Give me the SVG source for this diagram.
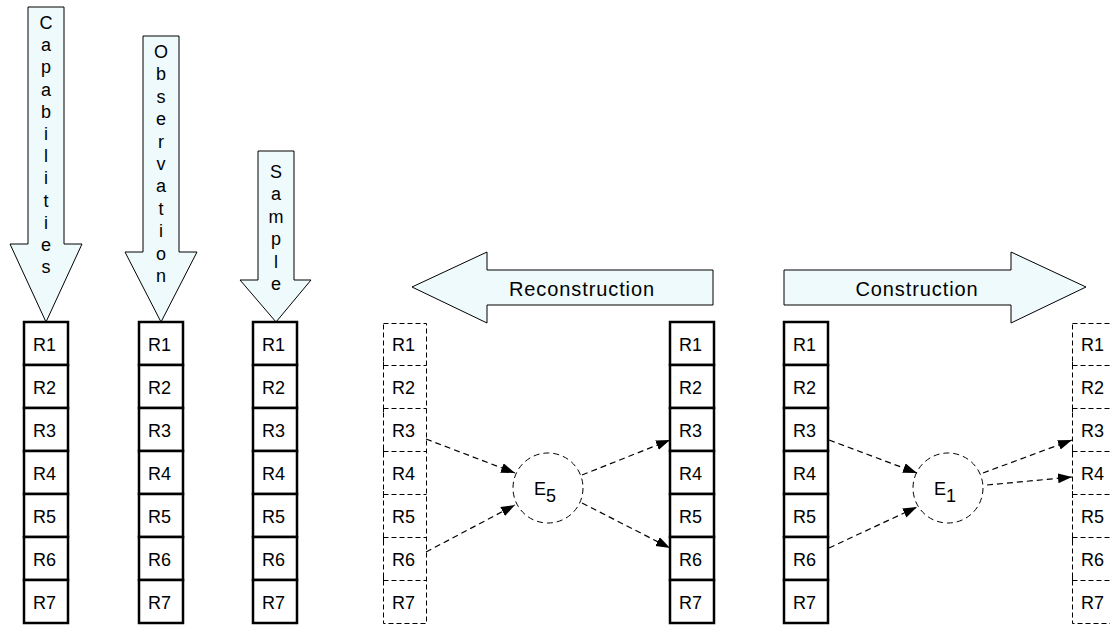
<svg xmlns="http://www.w3.org/2000/svg" width="1110" height="626" viewBox="0 0 1110 626">
  <defs>
    <style>
      text { font-family: "Liberation Sans", Arial, sans-serif; fill: #000; }
      .lbl { font-size: 18px; }
      .big { font-size: 20px; letter-spacing: 0.9px; }
      .flow { fill: #eefafb; stroke: #000; stroke-width: 1; }
      .cell { fill: #fff; stroke: #000; stroke-width: 2.5; }
      .dcell { fill: none; stroke: #000; stroke-width: 1; stroke-dasharray: 5 3; }
      .ent { fill: #fff; stroke: #000; stroke-width: 1; stroke-dasharray: 6 4; }
      .link { fill: none; stroke: #000; stroke-width: 1.2; stroke-dasharray: 6 4; marker-end: url(#tip); }
    </style>
    <marker id="tip" markerUnits="userSpaceOnUse" markerWidth="15" markerHeight="11" refX="14" refY="5" orient="auto">
      <path d="M0,0 L14,5 L0,10 z" fill="#000"/>
    </marker>
    <!-- one register stack: seven rows of 43px -->
    <g id="rows">
      <text class="lbl" x="9" y="29">R1</text>
      <text class="lbl" x="9" y="72">R2</text>
      <text class="lbl" x="9" y="115">R3</text>
      <text class="lbl" x="9" y="158">R4</text>
      <text class="lbl" x="9" y="201">R5</text>
      <text class="lbl" x="9" y="244">R6</text>
      <text class="lbl" x="9" y="287">R7</text>
    </g>
    <g id="solid">
      <rect class="cell" x="0" y="0" width="44" height="43"/>
      <rect class="cell" x="0" y="43" width="44" height="43"/>
      <rect class="cell" x="0" y="86" width="44" height="43"/>
      <rect class="cell" x="0" y="129" width="44" height="43"/>
      <rect class="cell" x="0" y="172" width="44" height="43"/>
      <rect class="cell" x="0" y="215" width="44" height="43"/>
      <rect class="cell" x="0" y="258" width="44" height="43"/>
      <use href="#rows"/>
    </g>
    <g id="dashed">
      <rect class="dcell" x="0.5" y="1.5" width="43" height="300"/>
      <path class="dcell" d="M0.5,43.5 H43.5 M0.5,86.5 H43.5 M0.5,129.5 H43.5 M0.5,172.5 H43.5 M0.5,215.5 H43.5 M0.5,258.5 H43.5"/>
      <path d="M0.5,40 V47 M0.5,83 V90 M0.5,126 V133 M0.5,169 V176 M0.5,212 V219 M0.5,255 V262" stroke="#000" stroke-width="1"/>
      <use href="#rows"/>
    </g>
  </defs>

  <!-- vertical labelled flow arrows -->
  <g id="capabilities">
    <polygon class="flow" points="28,7 64,7 64,244 82,244 46,322 10,244 28,244"/>
    <text class="lbl" text-anchor="middle">
      <tspan x="46" y="29">C</tspan><tspan x="46" dy="22.2">a</tspan><tspan x="46" dy="22.2">p</tspan><tspan x="46" dy="22.2">a</tspan><tspan x="46" dy="22.2">b</tspan><tspan x="46" dy="22.2">i</tspan><tspan x="46" dy="22.2">l</tspan><tspan x="46" dy="22.2">i</tspan><tspan x="46" dy="22.2">t</tspan><tspan x="46" dy="22.2">i</tspan><tspan x="46" dy="22.2">e</tspan><tspan x="46" dy="22.2">s</tspan>
    </text>
  </g>
  <g id="observation">
    <polygon class="flow" points="143,36 179,36 179,252 197,252 161,322 125,252 143,252"/>
    <text class="lbl" text-anchor="middle">
      <tspan x="161" y="58">O</tspan><tspan x="161" dy="22.4">b</tspan><tspan x="161" dy="22.4">s</tspan><tspan x="161" dy="22.4">e</tspan><tspan x="161" dy="22.4">r</tspan><tspan x="161" dy="22.4">v</tspan><tspan x="161" dy="22.4">a</tspan><tspan x="161" dy="22.4">t</tspan><tspan x="161" dy="22.4">i</tspan><tspan x="161" dy="22.4">o</tspan><tspan x="161" dy="22.4">n</tspan>
    </text>
  </g>
  <g id="sample">
    <polygon class="flow" points="258,151 294,151 294,280 311,280 276,322 240,280 258,280"/>
    <text class="lbl" text-anchor="middle">
      <tspan x="276" y="178">S</tspan><tspan x="276" dy="22.4">a</tspan><tspan x="276" dy="22.4">m</tspan><tspan x="276" dy="22.4">p</tspan><tspan x="276" dy="22.4">l</tspan><tspan x="276" dy="22.4">e</tspan>
    </text>
  </g>

  <!-- horizontal direction arrows -->
  <g id="reconstruction">
    <polygon class="flow" points="713,270 487,270 487,252 412,287 487,323 487,305 713,305"/>
    <text class="big" x="582" y="296" text-anchor="middle">Reconstruction</text>
  </g>
  <g id="construction">
    <polygon class="flow" points="784,270 1011,270 1011,252 1086,287 1011,323 1011,305 784,305"/>
    <text class="big" x="917" y="296" text-anchor="middle">Construction</text>
  </g>

  <!-- register stacks -->
  <g id="stack-capabilities"><use href="#solid" x="24" y="322"/></g>
  <g id="stack-observation"><use href="#solid" x="139" y="322"/></g>
  <g id="stack-sample"><use href="#solid" x="253" y="322"/></g>
  <g id="stack-rec-before"><use href="#dashed" x="383" y="322"/></g>
  <g id="stack-rec-after"><use href="#solid" x="670" y="322"/></g>
  <g id="stack-con-before"><use href="#solid" x="784" y="322"/></g>
  <g id="stack-con-after"><use href="#dashed" x="1072" y="322"/></g>

  <!-- element nodes -->
  <g id="e5">
    <circle class="ent" cx="548" cy="488" r="35"/>
    <text class="lbl" x="534" y="495">E<tspan dy="7">5</tspan></text>
  </g>
  <g id="e1">
    <circle class="ent" cx="948" cy="488" r="35"/>
    <text class="lbl" x="934" y="495">E<tspan dy="7">1</tspan></text>
  </g>

  <!-- connectors -->
  <g id="connectors">
    <line class="link" x1="426" y1="439" x2="515" y2="473"/>
    <line class="link" x1="426" y1="552" x2="515" y2="505"/>
    <line class="link" x1="582" y1="475" x2="670" y2="440"/>
    <line class="link" x1="582" y1="503" x2="670" y2="548"/>
    <line class="link" x1="829" y1="440" x2="917" y2="473"/>
    <line class="link" x1="829" y1="548" x2="917" y2="507"/>
    <line class="link" x1="983" y1="473" x2="1072" y2="440"/>
    <line class="link" x1="987" y1="485" x2="1072" y2="477"/>
  </g>
</svg>
